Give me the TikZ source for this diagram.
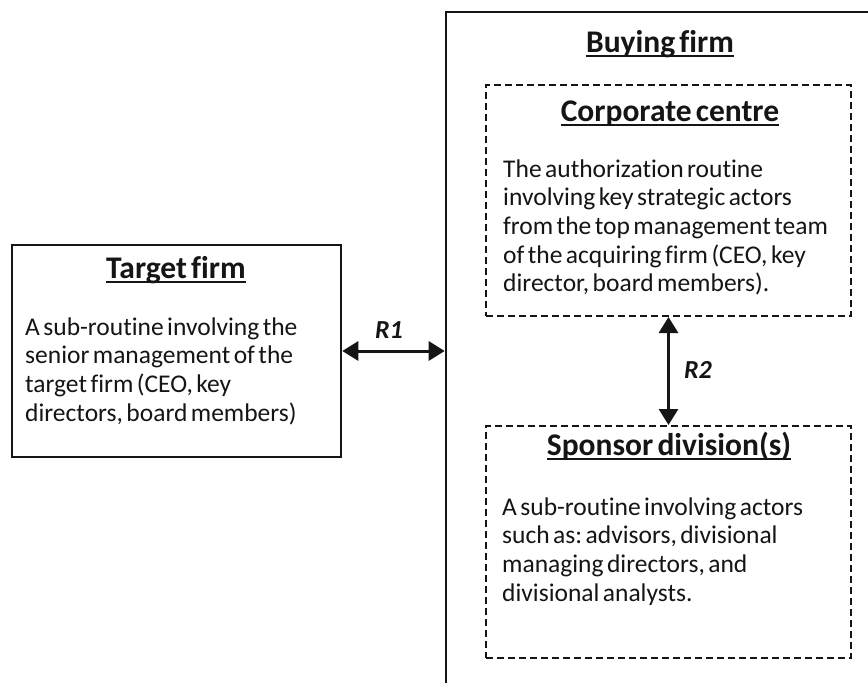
\documentclass[tikz,border=0pt]{standalone}
\usepackage{fontspec}
\setmainfont{Carlito}[Ligatures=NoCommon,WordSpace=0.6]
\usetikzlibrary{arrows.meta}
\newsavebox\ulbox
\newcommand{\myul}[1]{\sbox\ulbox{#1}\rlap{\rule[-4.5pt]{\wd\ulbox}{2pt}}\usebox\ulbox}
\definecolor{ink}{HTML}{151515}
\frenchspacing
\begin{document}
\begin{tikzpicture}[x=1pt,y=-1pt,
  solidbox/.style={draw=ink,line width=2.6pt,inner sep=0pt},
  dashbox/.style={draw=ink,line width=2pt,dash pattern=on 7pt off 4pt,inner sep=0pt},
  title/.style={font=\fontsize{31.5}{34}\selectfont\bfseries,text=ink,inner sep=0pt,anchor=base},
  body/.style={font=\fontsize{25.5}{28.7}\selectfont\frenchspacing,text=ink,text width=345pt,align=flush left,inner sep=0pt,anchor=base west},
  rel/.style={font=\fontsize{26}{28}\selectfont\bfseries\itshape,text=ink,inner sep=0pt},
  biarrow/.style={draw=ink,line width=3pt,{Triangle[length=16pt,width=19pt]}-{Triangle[length=16pt,width=19pt]}}]
\clip (0,0) rectangle (868,683);
\fill[white] (0,0) rectangle (868,683);
% boxes
\node[solidbox,minimum width=329pt,minimum height=212pt] (target) at (176.5,351) {};
\node[solidbox,minimum width=460pt,minimum height=700pt] (buying) at (676,362) {};
\node[dashbox,minimum width=365pt,minimum height=231pt] (corp) at (668.5,200.5) {};
\node[dashbox,minimum width=365pt,minimum height=232pt] (sponsor) at (668.5,542) {};
% titles
\node[title] (ttarget) at (176,278) {\myul{Target firm}};
\node[title] (tbuying) at (660,52) {\myul{Buying firm}};
\node[title] (tcorp) at (670,121) {\myul{Corporate centre}};
\node[title] (tsponsor) at (669,455) {\myul{Sponsor division(s)}};
% bodies
\node[body] (btarget) at (25,335) {A sub-routine involving the\\senior management of the\\target firm (CEO, key\\directors, board members)};
\node[body] (bcorp) at (503,177) {The authorization routine\\involving key strategic actors\\from the top management team\\of the acquiring firm (CEO, key\\director, board members).};
\node[body] (bsponsor) at (502,515) {A sub-routine involving actors\\such as: advisors, divisional\\managing directors, and\\divisional analysts.};
% relations
\draw[biarrow] (target.east) -- (target.east -| buying.west);
\draw[biarrow] (corp.south) -- (sponsor.north);
\node[rel] (r1) at (389,330) {R1};
\node[rel] (r2) at (698,370) {R2};
\end{tikzpicture}
\end{document}
